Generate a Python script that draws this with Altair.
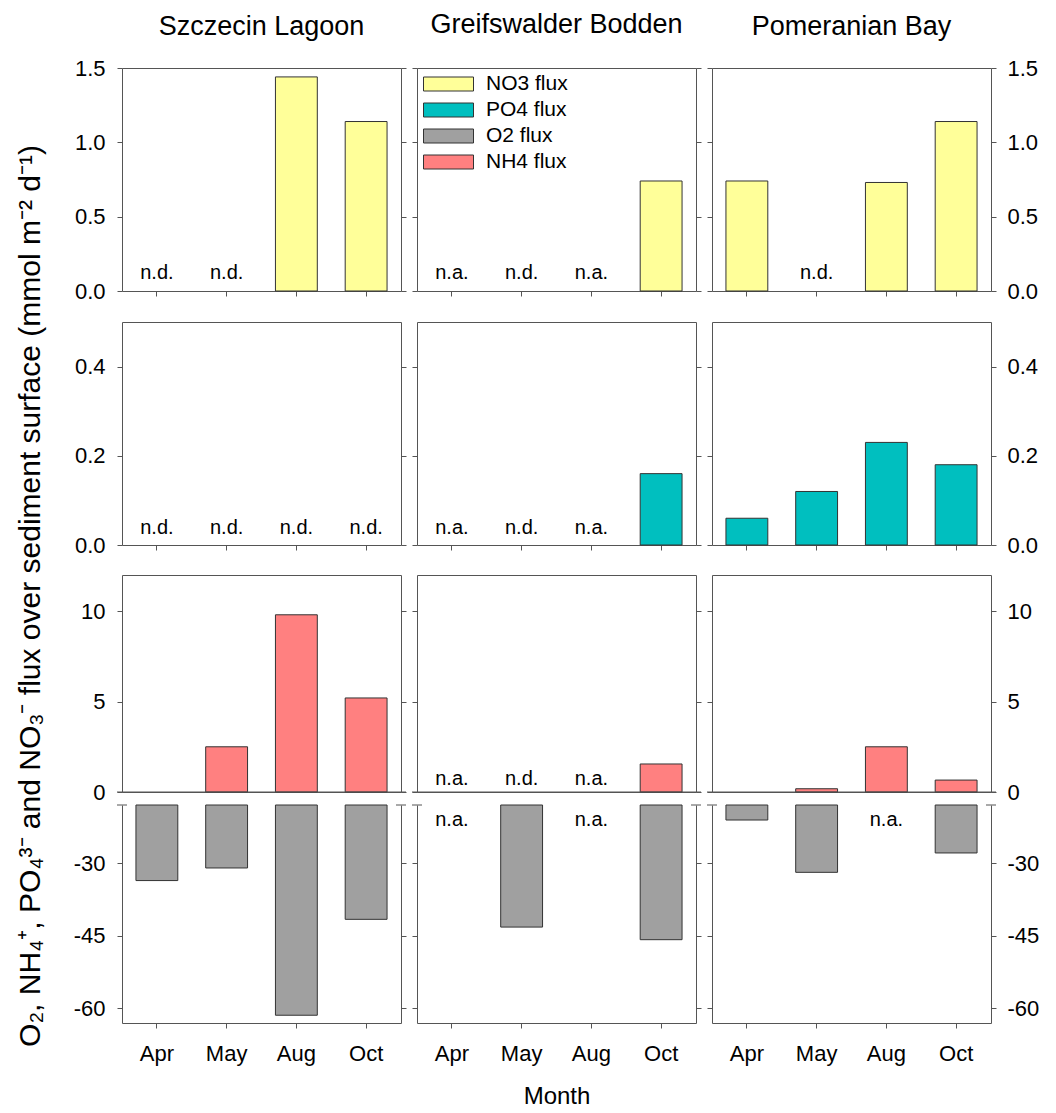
import altair as alt
import pandas as pd

FONT = "Liberation Sans"

sites = ["Szczecin Lagoon", "Greifswalder Bodden", "Pomeranian Bay"]
months = ["Apr", "May", "Aug", "Oct"]
flux_names = ["NO3 flux", "PO4 flux", "O2 flux", "NH4 flux"]
flux_colors = ["#FFFF99", "#00BFBF", "#A0A0A0", "#FF8080"]

# fluxes (mmol m-2 d-1); None = no bar
no3_szczecin = [None, None, 1.44, 1.14]
no3_greifswald = [None, None, None, 0.74]
no3_pomeranian = [0.74, None, 0.73, 1.14]

po4_szczecin = [None, None, None, None]
po4_greifswald = [None, None, None, 0.16]
po4_pomeranian = [0.06, 0.12, 0.23, 0.18]

nh4_szczecin = [None, 2.5, 9.8, 5.2]
nh4_greifswald = [None, None, None, 1.55]
nh4_pomeranian = [None, 0.18, 2.5, 0.66]

o2_szczecin = [-33.6, -31.0, -61.4, -41.6]
o2_greifswald = [None, -43.2, None, -45.8]
o2_pomeranian = [-21.1, -31.9, None, -27.9]

# notes (n.d. = not detected, n.a. = not analysed)
no3_notes_szczecin = ["n.d.", "n.d.", "", ""]
no3_notes_greifswald = ["n.a.", "n.d.", "n.a.", ""]
no3_notes_pomeranian = ["", "n.d.", "", ""]

po4_notes_szczecin = ["n.d.", "n.d.", "n.d.", "n.d."]
po4_notes_greifswald = ["n.a.", "n.d.", "n.a.", ""]
po4_notes_pomeranian = ["", "", "", ""]

nh4_notes_szczecin = ["", "", "", ""]
nh4_notes_greifswald = ["n.a.", "n.d.", "n.a.", ""]
nh4_notes_pomeranian = ["", "", "", ""]

o2_notes_szczecin = ["", "", "", ""]
o2_notes_greifswald = ["n.a.", "", "n.a.", ""]
o2_notes_pomeranian = ["", "", "n.a.", ""]

no3_ticks = [0, 0.5, 1.0, 1.5]
po4_ticks = [0, 0.2, 0.4]
nh4_ticks = [0, 5, 10]
o2_ticks = [-30, -45, -60]

y_title = "O\u2082, NH\u2084\u207a, PO\u2084\u00b3\u207b and NO\u2083\u207b flux over sediment surface (mmol m\u207b\u00b2 d\u207b\u00b9)"

rows = [
    dict(flux="NO3 flux", values=[no3_szczecin, no3_greifswald, no3_pomeranian],
         notes=[no3_notes_szczecin, no3_notes_greifswald, no3_notes_pomeranian],
         domain=[0, 1.5], ticks=no3_ticks, expr="format(datum.value, '.1f')",
         height=223, anchor=0, dy=-12),
    dict(flux="PO4 flux", values=[po4_szczecin, po4_greifswald, po4_pomeranian],
         notes=[po4_notes_szczecin, po4_notes_greifswald, po4_notes_pomeranian],
         domain=[0, 0.5], ticks=po4_ticks, expr="format(datum.value, '.1f')",
         height=223, anchor=0, dy=-11),
    dict(flux="NH4 flux", values=[nh4_szczecin, nh4_greifswald, nh4_pomeranian],
         notes=[nh4_notes_szczecin, nh4_notes_greifswald, nh4_notes_pomeranian],
         domain=[0, 12], ticks=nh4_ticks, expr="'' + datum.value",
         height=217, anchor=0, dy=-7),
    dict(flux="O2 flux", values=[o2_szczecin, o2_greifswald, o2_pomeranian],
         notes=[o2_notes_szczecin, o2_notes_greifswald, o2_notes_pomeranian],
         domain=[-63, -18], ticks=o2_ticks, expr="'' + datum.value",
         height=218, anchor=-18, dy=21),
]

W = 279
FRAME = "#555555"
TITLE_OFFSETS = [-5, 8, -5]

fill_scale = alt.Scale(domain=flux_names, range=flux_colors)
legend = alt.Legend(
    title=None, orient="none", legendX=6, legendY=6,
    symbolType="M-1,-0.28L1,-0.28L1,0.28L-1,0.28Z", symbolSize=2500,
    symbolStrokeColor="#333333", symbolStrokeWidth=1, symbolOpacity=1,
    labelFontSize=21, labelFont=FONT, labelOffset=12, rowPadding=5,
    clipHeight=20, padding=0,
)


def make_panel(r, c):
    spec = rows[r]
    H = spec["height"]
    lo, hi = spec["domain"]
    yscale = alt.Scale(domain=[lo, hi], nice=False, zero=False)
    vals = spec["values"][c]
    bar_df = pd.DataFrame({
        "month": [m for m, v in zip(months, vals) if v is not None],
        "value": [v for v in vals if v is not None],
    })
    bar_df["flux"] = spec["flux"]
    note_df = pd.DataFrame({"month": months, "note": spec["notes"][c]})

    xscale = alt.Scale(domain=months, paddingInner=0.4, paddingOuter=0.2)
    if r == 2:
        xenc = alt.X("month:N", sort=months, scale=xscale, axis=None)
    else:
        bottom = (r == 3)
        axkw = dict(labels=bottom, ticks=True, tickSize=5, tickColor=FRAME,
                    domain=bottom, domainColor=FRAME, labelAngle=0,
                    labelFontSize=22, labelPadding=15, grid=False)
        if bottom and c == 1:
            axkw.update(title="Month", titleFontSize=24, titlePadding=20,
                        titleFontWeight="normal", titleFont=FONT)
        else:
            axkw.update(title=None)
        xenc = alt.X("month:N", sort=months, scale=xscale, axis=alt.Axis(**axkw))

    def yaxis(orient, show):
        return alt.Axis(orient=orient, values=spec["ticks"], labels=show,
                        labelExpr=spec["expr"], ticks=True, tickSize=5,
                        tickColor=FRAME, domain=(r == 3), domainColor=FRAME,
                        grid=False, title=None,
                        labelPadding=(12 if orient == "left" else 11),
                        labelFontSize=22)

    enc = dict(
        x=xenc,
        y=alt.Y("value:Q", scale=yscale, axis=yaxis("left", c == 0)),
        fill=alt.Fill("flux:N", scale=fill_scale,
                      legend=(legend if (r == 0 and c == 1) else None)),
    )
    if r == 3:
        enc["y2"] = alt.datum(hi)
    bars = alt.Chart(bar_df).mark_bar(stroke="#333333", strokeWidth=1).encode(**enc)

    notes = alt.Chart(note_df).mark_text(
        fontSize=20, dy=spec["dy"], baseline="alphabetic", align="center", color="black"
    ).encode(
        x=xenc,
        y=alt.YDatum(spec["anchor"], type="quantitative", scale=yscale,
                     axis=yaxis("right", c == 2)),
        text="note:N",
    )
    layers = [bars, notes]
    one = pd.DataFrame({"k": [0]})
    if r == 2:
        layers.append(alt.Chart(one).mark_rule(color=FRAME, strokeWidth=1).encode(
            y=alt.YDatum(0, type="quantitative", scale=yscale, axis=None),
            x=alt.value(-5), x2=alt.value(W + 5)))
    if r == 3:
        layers.append(alt.Chart(one).mark_rule(color=FRAME, strokeWidth=1).encode(
            y=alt.value(0), x=alt.value(-5), x2=alt.value(5)))
        layers.append(alt.Chart(one).mark_rule(color=FRAME, strokeWidth=1).encode(
            y=alt.value(0), x=alt.value(W - 5), x2=alt.value(W + 5)))

    ch = alt.layer(*layers).resolve_axis(y="independent").properties(width=W, height=H)
    if r < 3:
        ch = ch.properties(view=alt.ViewBackground(stroke=FRAME, strokeWidth=1))
    if r == 0:
        ch = ch.properties(title=alt.TitleParams(
            sites[c], fontSize=27, font=FONT, fontWeight="normal", color="black",
            frame="group", anchor="middle", baseline="alphabetic",
            offset=TITLE_OFFSETS[c]))
    return ch


row_charts = []
for r in range(4):
    row_charts.append(
        alt.hconcat(*[make_panel(r, c) for c in range(3)], spacing=16, bounds="flush")
        .resolve_scale(fill="independent")
    )

top = alt.vconcat(row_charts[0], row_charts[1], spacing=18).resolve_scale(fill="independent")
bottom = alt.vconcat(row_charts[2], row_charts[3], spacing=0).resolve_scale(fill="independent")
grid = alt.vconcat(top, bottom, spacing=17).resolve_scale(fill="independent")

ytitle = alt.Chart(pd.DataFrame({"t": [y_title]})).mark_text(
    angle=270, fontSize=30, align="center", baseline="middle", color="black"
).encode(
    text="t:N", x=alt.value(22), y=alt.value(528)
).properties(width=40, height=953)

chart = (
    alt.hconcat(ytitle, grid, spacing=22)
    .resolve_scale(fill="independent")
    .properties(padding={"left": 0, "top": 2, "right": 0, "bottom": 0})
    .configure(font=FONT)
    .configure_view(stroke="transparent")
    .configure_axis(labelFont=FONT, labelColor="black", titleColor="black")
    .configure_legend(labelFont=FONT, labelColor="black")
)

chart.save("out.html", embed_options={"renderer": "svg", "actions": False})
